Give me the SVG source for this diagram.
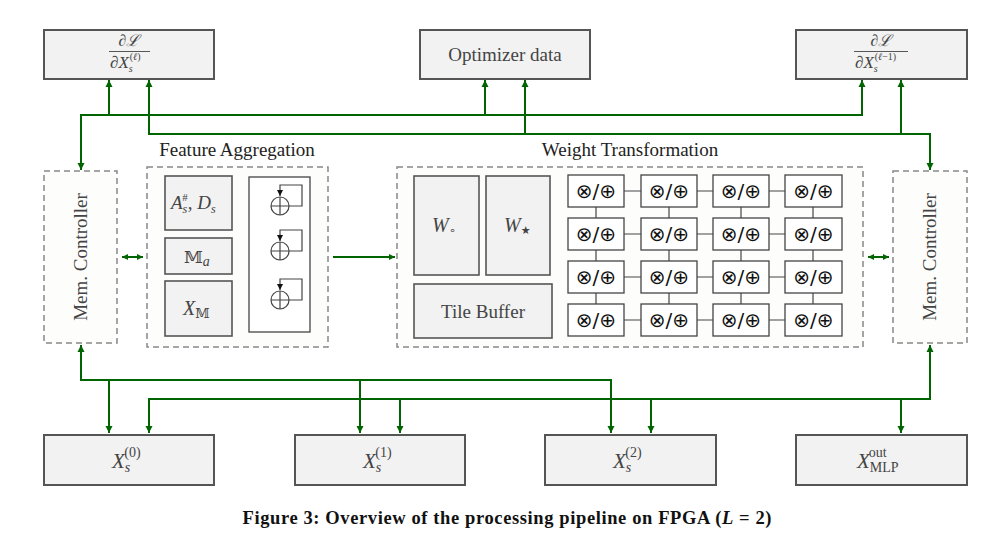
<svg xmlns="http://www.w3.org/2000/svg" width="986" height="544" viewBox="0 0 986 544">
<style>
.box{fill:#f2f2f2;stroke:#555;stroke-width:2}
.ibox{fill:#f2f2f2;stroke:#555;stroke-width:1.6}
.dash{fill:#fdfefc;stroke:#888;stroke-width:1.5;stroke-dasharray:6 4}
.pe{fill:#fff;stroke:#444;stroke-width:1.3}
.grid{stroke:#444;stroke-width:1.2;fill:none}
.wire{fill:none;stroke:#006400;stroke-width:2}
.lbl{font-family:"Liberation Serif","DejaVu Serif",serif;fill:#444}
.math{font-family:"Liberation Serif","DejaVu Serif",serif;fill:#444;font-style:italic}
.title{font-family:"Liberation Serif","DejaVu Serif",serif;fill:#222;font-size:19px}
.petxt{font-family:"DejaVu Sans",sans-serif;fill:#111;font-size:20px;text-anchor:middle}
</style>
<defs>
<marker id="ah" viewBox="0 0 10 10" refX="10" refY="5" markerUnits="userSpaceOnUse" markerWidth="7" markerHeight="8" orient="auto-start-reverse"><path d="M0,0 L10,5 L0,10 z" fill="#006400"/></marker>
<marker id="ahs" viewBox="0 0 10 10" refX="10" refY="5" markerUnits="userSpaceOnUse" markerWidth="6" markerHeight="6" orient="auto-start-reverse"><path d="M0,0 L10,5 L0,10 z" fill="#006400"/></marker>
<marker id="ahb" viewBox="0 0 10 10" refX="10" refY="5" markerUnits="userSpaceOnUse" markerWidth="6" markerHeight="6" orient="auto"><path d="M0,0 L10,5 L0,10 z" fill="#111"/></marker>
</defs>

<g id="grad-l">
<rect class="box" x="44" y="30" width="170" height="49"/>
<text class="lbl" x="129" y="46" font-size="16" text-anchor="middle">∂<tspan font-style="italic">ℒ</tspan></text>
<line x1="109" y1="51.5" x2="150" y2="51.5" stroke="#444" stroke-width="0.9"/>
<text class="lbl" x="110" y="68" font-size="17">∂<tspan font-style="italic">X</tspan><tspan font-style="italic" font-size="10" dy="4">s</tspan><tspan font-size="10" dx="-3" dy="-12">(<tspan font-style="italic">ℓ</tspan>)</tspan></text>
</g>

<g id="optimizer">
<rect class="box" x="420" y="30" width="170" height="49"/>
<text class="lbl" x="505" y="61" font-size="19" text-anchor="middle">Optimizer data</text>
</g>

<g id="grad-l-1">
<rect class="box" x="796" y="30" width="171" height="49"/>
<text class="lbl" x="881" y="46" font-size="16" text-anchor="middle">∂<tspan font-style="italic">ℒ</tspan></text>
<line x1="854" y1="51.5" x2="908" y2="51.5" stroke="#444" stroke-width="0.9"/>
<text class="lbl" x="855" y="68" font-size="17">∂<tspan font-style="italic">X</tspan><tspan font-style="italic" font-size="10" dy="4">s</tspan><tspan font-size="10" dx="-3" dy="-12">(<tspan font-style="italic">ℓ</tspan>−1)</tspan></text>
</g>

<g id="mem-left">
<rect class="dash" x="44" y="171" width="73" height="172"/>
<text class="lbl" font-size="19" text-anchor="middle" transform="translate(87,257) rotate(-90)">Mem. Controller</text>
</g>

<g id="mem-right">
<rect class="dash" x="893" y="171" width="74" height="172"/>
<text class="lbl" font-size="19" text-anchor="middle" transform="translate(936,257) rotate(-90)">Mem. Controller</text>
</g>

<g id="feature-aggregation">
<rect class="dash" x="147" y="167" width="181" height="180"/>
<text class="title" x="237" y="156" text-anchor="middle">Feature Aggregation</text>
<rect class="ibox" x="165" y="176" width="67" height="54"/>
<text class="math" x="171" y="209" font-size="19">A<tspan font-size="12" dy="4">s</tspan><tspan font-size="11" font-style="normal" dx="-5" dy="-12">#</tspan><tspan font-style="normal" dy="8">, </tspan>D<tspan font-size="12" dy="4">s</tspan></text>
<rect class="ibox" x="165" y="238" width="67" height="36"/>
<text class="lbl" x="184" y="263" font-size="18"><tspan font-family="DejaVu Serif, DejaVu Sans, serif" font-size="17">𝕄</tspan><tspan font-style="italic" font-size="14" dy="3">a</tspan></text>
<rect class="ibox" x="165" y="281" width="67" height="55"/>
<text class="math" x="183" y="315" font-size="20">X<tspan font-style="normal" font-family="DejaVu Serif, DejaVu Sans, serif" font-size="13" dy="3">𝕄</tspan></text>
<rect class="pe" x="249" y="177" width="61" height="155"/>
<g class="grid">
<circle cx="280" cy="206" r="9"/><path d="M271 206 H289 M280 197 V215"/>
<path d="M289 206 H302 V185 H280 V196" marker-end="url(#ahb)"/>
<circle cx="280" cy="251" r="9"/><path d="M271 251 H289 M280 242 V260"/>
<path d="M289 251 H302 V230 H280 V241" marker-end="url(#ahb)"/>
<circle cx="280" cy="300" r="9"/><path d="M271 300 H289 M280 291 V309"/>
<path d="M289 300 H302 V279 H280 V290" marker-end="url(#ahb)"/>
</g>
</g>

<g id="weight-transformation">
<rect class="dash" x="397" y="167" width="466" height="180"/>
<text class="title" x="630" y="156" text-anchor="middle">Weight Transformation</text>
<rect class="ibox" x="414" y="176" width="65" height="99"/>
<text class="math" x="432" y="232" font-size="20">W<tspan font-style="normal" font-family="DejaVu Sans, sans-serif" font-size="11" dy="2">∘</tspan></text>
<rect class="ibox" x="486" y="176" width="64" height="99"/>
<text class="math" x="504" y="232" font-size="20">W<tspan font-style="normal" font-family="DejaVu Sans, sans-serif" font-size="11" dy="2">★</tspan></text>
<rect class="ibox" x="414" y="284" width="138" height="54"/>
<text class="lbl" x="483" y="318" font-size="19" text-anchor="middle">Tile Buffer</text>
<g class="grid">
<path d="M624 191 H641 M697 191 H713 M769 191 H785 M624 234 H641 M697 234 H713 M769 234 H785 M624 277 H641 M697 277 H713 M769 277 H785 M624 320 H641 M697 320 H713 M769 320 H785"/>
<path d="M596 207 V218 M669 207 V218 M741 207 V218 M813 207 V218 M596 250 V261 M669 250 V261 M741 250 V261 M813 250 V261 M596 293 V304 M669 293 V304 M741 293 V304 M813 293 V304"/>
</g>
<g id="pe-array">
<rect class="pe" x="568" y="175" width="56" height="32"/><rect class="pe" x="641" y="175" width="56" height="32"/><rect class="pe" x="713" y="175" width="56" height="32"/><rect class="pe" x="785" y="175" width="57" height="32"/>
<rect class="pe" x="568" y="218" width="56" height="32"/><rect class="pe" x="641" y="218" width="56" height="32"/><rect class="pe" x="713" y="218" width="56" height="32"/><rect class="pe" x="785" y="218" width="57" height="32"/>
<rect class="pe" x="568" y="261" width="56" height="32"/><rect class="pe" x="641" y="261" width="56" height="32"/><rect class="pe" x="713" y="261" width="56" height="32"/><rect class="pe" x="785" y="261" width="57" height="32"/>
<rect class="pe" x="568" y="304" width="56" height="32"/><rect class="pe" x="641" y="304" width="56" height="32"/><rect class="pe" x="713" y="304" width="56" height="32"/><rect class="pe" x="785" y="304" width="57" height="32"/>
<text class="petxt" x="596" y="198">⊗/⊕</text><text class="petxt" x="669" y="198">⊗/⊕</text><text class="petxt" x="741" y="198">⊗/⊕</text><text class="petxt" x="813.5" y="198">⊗/⊕</text>
<text class="petxt" x="596" y="241">⊗/⊕</text><text class="petxt" x="669" y="241">⊗/⊕</text><text class="petxt" x="741" y="241">⊗/⊕</text><text class="petxt" x="813.5" y="241">⊗/⊕</text>
<text class="petxt" x="596" y="284">⊗/⊕</text><text class="petxt" x="669" y="284">⊗/⊕</text><text class="petxt" x="741" y="284">⊗/⊕</text><text class="petxt" x="813.5" y="284">⊗/⊕</text>
<text class="petxt" x="596" y="327">⊗/⊕</text><text class="petxt" x="669" y="327">⊗/⊕</text><text class="petxt" x="741" y="327">⊗/⊕</text><text class="petxt" x="813.5" y="327">⊗/⊕</text>
</g>
</g>

<g id="x0">
<rect class="box" x="44" y="435" width="170" height="50"/>
<text class="math" x="112" y="468" font-size="21">X<tspan font-size="14" dy="4">s</tspan><tspan font-style="normal" font-size="14" dx="-6" dy="-15">(0)</tspan></text>
</g>
<g id="x1">
<rect class="box" x="295" y="435" width="170" height="50"/>
<text class="math" x="363" y="468" font-size="21">X<tspan font-size="14" dy="4">s</tspan><tspan font-style="normal" font-size="14" dx="-6" dy="-15">(1)</tspan></text>
</g>
<g id="x2">
<rect class="box" x="545" y="435" width="171" height="50"/>
<text class="math" x="613" y="468" font-size="21">X<tspan font-size="14" dy="4">s</tspan><tspan font-style="normal" font-size="14" dx="-6" dy="-15">(2)</tspan></text>
</g>
<g id="xout">
<rect class="box" x="796" y="435" width="171" height="50"/>
<text class="math" x="857" y="468" font-size="21">X<tspan font-style="normal" font-size="14" dy="4">MLP</tspan><tspan font-style="normal" font-size="14" dx="-30" dy="-15">out</tspan></text>
</g>

<g id="connectors">
<path class="wire" d="M81 170 V115 H862 V80" marker-start="url(#ah)" marker-end="url(#ah)"/>
<path class="wire" d="M109 115 V80" marker-end="url(#ah)"/>
<path class="wire" d="M485 115 V80" marker-end="url(#ah)"/>
<path class="wire" d="M149 80 V134 H930 V170" marker-start="url(#ah)" marker-end="url(#ah)"/>
<path class="wire" d="M525 134 V80" marker-end="url(#ah)"/>
<path class="wire" d="M901 134 V80" marker-end="url(#ah)"/>
<path class="wire" d="M81 345 V380 H611 V433" marker-start="url(#ah)" marker-end="url(#ah)"/>
<path class="wire" d="M109 380 V433" marker-end="url(#ah)"/>
<path class="wire" d="M360 380 V433" marker-end="url(#ah)"/>
<path class="wire" d="M930 345 V399 H149 V433" marker-start="url(#ah)" marker-end="url(#ah)"/>
<path class="wire" d="M400 399 V433" marker-end="url(#ah)"/>
<path class="wire" d="M651 399 V433" marker-end="url(#ah)"/>
<path class="wire" d="M901 399 V433" marker-end="url(#ah)"/>
<path class="wire" d="M122 257 H143" marker-start="url(#ahs)" marker-end="url(#ahs)"/>
<path class="wire" d="M868 257 H889" marker-start="url(#ahs)" marker-end="url(#ahs)"/>
<path class="wire" d="M333 257 H395" marker-end="url(#ahs)"/>
</g>

<text x="507" y="524" font-family="Liberation Serif, DejaVu Serif, serif" font-weight="bold" font-size="18.5" fill="#111" text-anchor="middle" textLength="529">Figure 3: Overview of the processing pipeline on FPGA (<tspan font-style="italic">L</tspan> = 2)</text>
</svg>
